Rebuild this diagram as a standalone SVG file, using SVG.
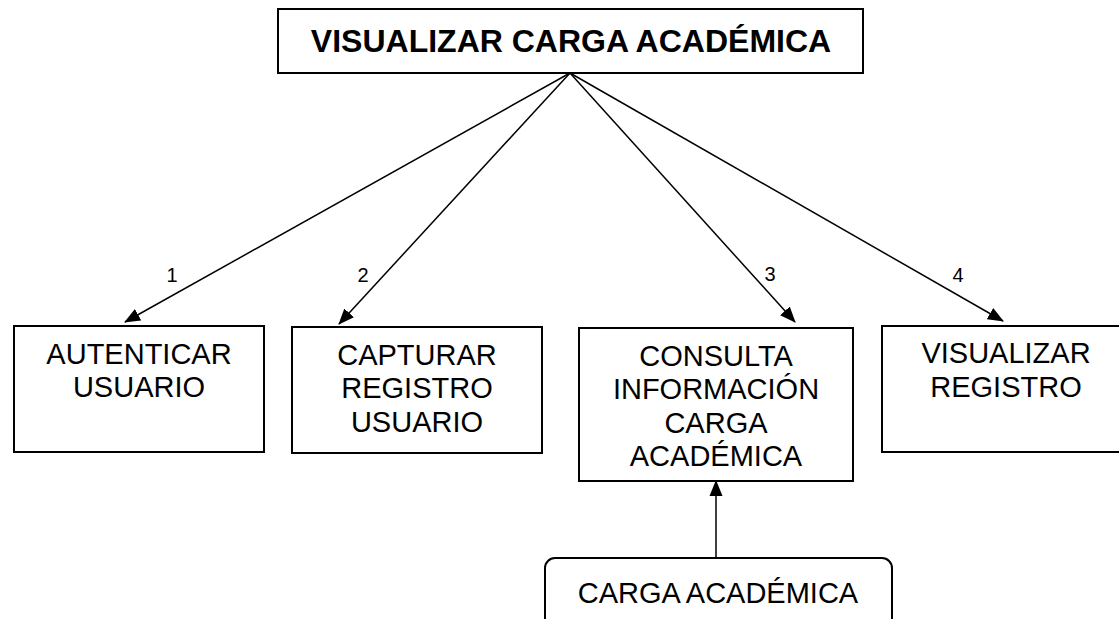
<svg xmlns="http://www.w3.org/2000/svg" width="1119" height="619" viewBox="0 0 1119 619">
<style>
.box{fill:#fff;stroke:#000;stroke-width:2}
.t{font-family:"Liberation Sans",Arial,sans-serif;font-size:29px;fill:#000;text-anchor:middle}
.title{font-family:"Liberation Sans",Arial,sans-serif;font-size:32px;font-weight:bold;fill:#000;text-anchor:middle}
.lbl{font-family:"Liberation Sans",Arial,sans-serif;font-size:20px;fill:#000;text-anchor:middle}
.c{stroke:#000;stroke-width:1.5;fill:none;marker-end:url(#ah)}
</style>
<defs>
<marker id="ah" markerUnits="userSpaceOnUse" markerWidth="16" markerHeight="14" refX="15" refY="6.5" orient="auto" viewBox="0 0 16 13">
<path d="M0,0 L16,6.5 L0,13 z" fill="#000"/>
</marker>
</defs>
<rect width="1119" height="619" fill="#fff"/>
<g id="connectors">
<line class="c" x1="570" y1="73" x2="125" y2="322"/>
<line class="c" x1="570" y1="73" x2="339" y2="324"/>
<line class="c" x1="570" y1="73" x2="795" y2="322"/>
<line class="c" x1="570" y1="73" x2="1003" y2="321"/>
<line class="c" x1="716" y1="558" x2="716" y2="481"/>
<text class="lbl" x="172" y="282">1</text>
<text class="lbl" x="363" y="282">2</text>
<text class="lbl" x="770" y="281">3</text>
<text class="lbl" x="958" y="282">4</text>
</g>
<g id="title">
<rect class="box" x="278" y="9" width="585" height="64"/>
<text class="title" x="571" y="52">VISUALIZAR CARGA ACADÉMICA</text>
</g>
<g id="autenticar">
<rect class="box" x="14" y="326" width="250" height="126"/>
<text class="t" x="139" y="364">AUTENTICAR</text>
<text class="t" x="139" y="397">USUARIO</text>
</g>
<g id="capturar">
<rect class="box" x="292" y="327" width="250" height="126"/>
<text class="t" x="417" y="365">CAPTURAR</text>
<text class="t" x="417" y="398">REGISTRO</text>
<text class="t" x="417" y="432">USUARIO</text>
</g>
<g id="consulta">
<rect class="box" x="579" y="328" width="274" height="153"/>
<text class="t" x="716" y="366">CONSULTA</text>
<text class="t" x="716" y="399">INFORMACIÓN</text>
<text class="t" x="716" y="433">CARGA</text>
<text class="t" x="716" y="466">ACADÉMICA</text>
</g>
<g id="visualizar">
<rect class="box" x="882" y="326" width="250" height="126"/>
<text class="t" x="1006" y="363">VISUALIZAR</text>
<text class="t" x="1006" y="397">REGISTRO</text>
</g>
<g id="carga">
<rect class="box" x="545" y="558" width="347" height="90" rx="10" ry="10"/>
<text class="t" x="718" y="603">CARGA ACADÉMICA</text>
</g>
</svg>
